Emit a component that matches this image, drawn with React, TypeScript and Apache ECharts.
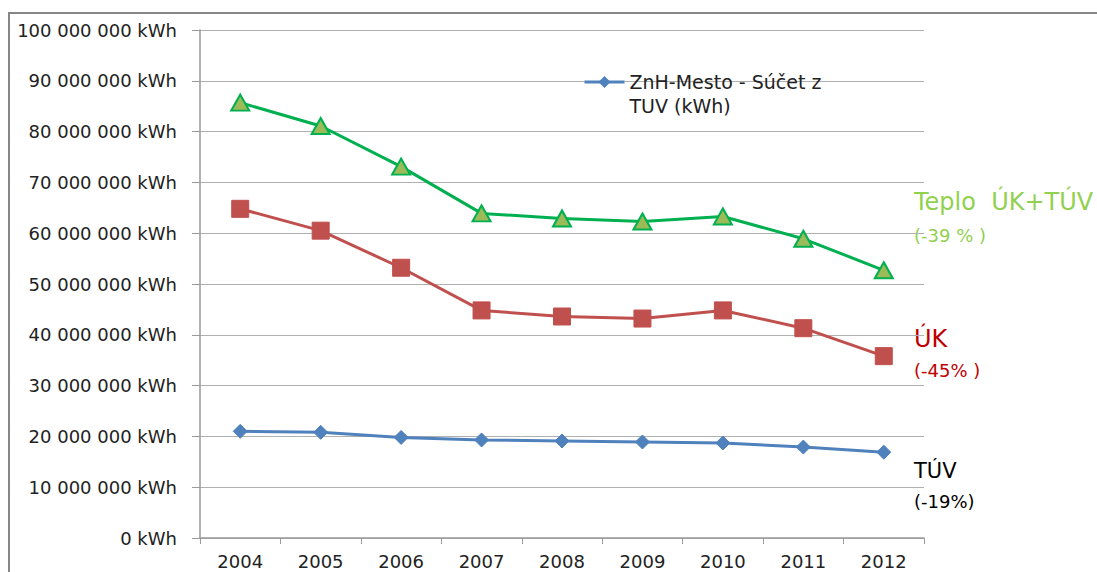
import React, { useEffect, useRef } from "react";
import * as echarts from "echarts";

const years = ["2004", "2005", "2006", "2007", "2008", "2009", "2010", "2011", "2012"];
const teploUkTuv = [85700000, 81100000, 73100000, 63900000, 62900000, 62300000, 63300000, 58900000, 52700000];
const uk = [64800000, 60500000, 53200000, 44800000, 43600000, 43200000, 44800000, 41300000, 35800000];
const tuv = [21000000, 20800000, 19800000, 19300000, 19100000, 18900000, 18700000, 17900000, 16900000];
const legendName = "ZnH-Mesto - Súčet z\nTUV (kWh)";

const FONT = "DejaVu Sans";

function fmt(v: number): string {
  if (v === 0) return "0 kWh";
  const s = String(Math.round(v));
  return s.replace(/\B(?=(\d{3})+(?!\d))/g, " ") + " kWh";
}

export default function App() {
  const ref = useRef<HTMLDivElement>(null);
  useEffect(() => {
    const chart = echarts.init(ref.current!, null, { renderer: "svg" });
    const ann = (text: string, y: number, size: number, color: string) => ({
      type: "text",
      x: 914,
      y,
      style: { text, fontFamily: FONT, fontSize: size, fill: color, verticalAlign: "middle", align: "left" },
    });
    chart.setOption({
      animation: false,
      backgroundColor: "#ffffff",
      grid: { left: 200, right: 173, top: 30, bottom: 34, containLabel: false },
      legend: {
        data: [legendName],
        left: 578,
        top: 41,
        itemWidth: 40,
        itemHeight: 15,
        itemGap: 0,
        lineStyle: { width: 3 },
        formatter: (n: string) => "\u00a0\n" + n,
        textStyle: { fontFamily: FONT, fontSize: 19, color: "#222", lineHeight: 24 },
      },
      xAxis: {
        type: "category",
        data: years,
        boundaryGap: true,
        axisLine: { lineStyle: { color: "#999", width: 1.5 } },
        axisTick: { show: true, length: 6, inside: false, lineStyle: { color: "#999" } },
        axisLabel: { fontFamily: FONT, fontSize: 18, color: "#222", margin: 14 },
        splitLine: { show: false },
      },
      yAxis: {
        type: "value",
        min: 0,
        max: 100000000,
        interval: 10000000,
        axisLine: { show: true, lineStyle: { color: "#999", width: 1.5 } },
        axisTick: { show: true, length: 8, lineStyle: { color: "#999" } },
        axisLabel: { fontFamily: FONT, fontSize: 18, color: "#222", margin: 23, formatter: (v: number) => fmt(v) },
        splitLine: { show: true, lineStyle: { color: "#b0b0b0", width: 1 } },
      },
      series: [
        {
          name: "Teplo ÚK+TÚV",
          type: "line",
          data: teploUkTuv,
          symbol: "triangle",
          symbolSize: [18, 16],
          lineStyle: { color: "#00b050", width: 3 },
          itemStyle: { color: "#9bbb59", borderColor: "#00b050", borderWidth: 2 },
        },
        {
          name: "ÚK",
          type: "line",
          data: uk,
          symbol: "rect",
          symbolSize: 17,
          lineStyle: { color: "#c0504d", width: 3 },
          itemStyle: { color: "#c0504d", borderColor: "#c0504d" },
        },
        {
          name: legendName,
          type: "line",
          data: tuv,
          symbol: "diamond",
          symbolSize: 14,
          lineStyle: { color: "#4f81bd", width: 3 },
          itemStyle: { color: "#4f81bd", borderColor: "#4f81bd" },
        },
      ],
      graphic: [
        {
          type: "polyline",
          shape: { points: [[9, 572], [9, 13], [1097, 13]] },
          style: { stroke: "#868686", lineWidth: 2, fill: "none" },
          silent: true,
        },
        ann("Teplo  ÚK+TÚV", 202, 24, "#92d050"),
        ann("(-39 % )", 235, 18, "#92d050"),
        ann("ÚK", 339, 24, "#c00000"),
        ann("(-45% )", 370, 18, "#c00000"),
        ann("TÚV", 471, 21, "#000000"),
        ann("(-19%)", 501, 18, "#000000"),
      ],
    });
    return () => chart.dispose();
  }, []);
  return <div ref={ref} style={{ width: 1097, height: 572, position: "absolute", left: 0, top: 0 }} />;
}
